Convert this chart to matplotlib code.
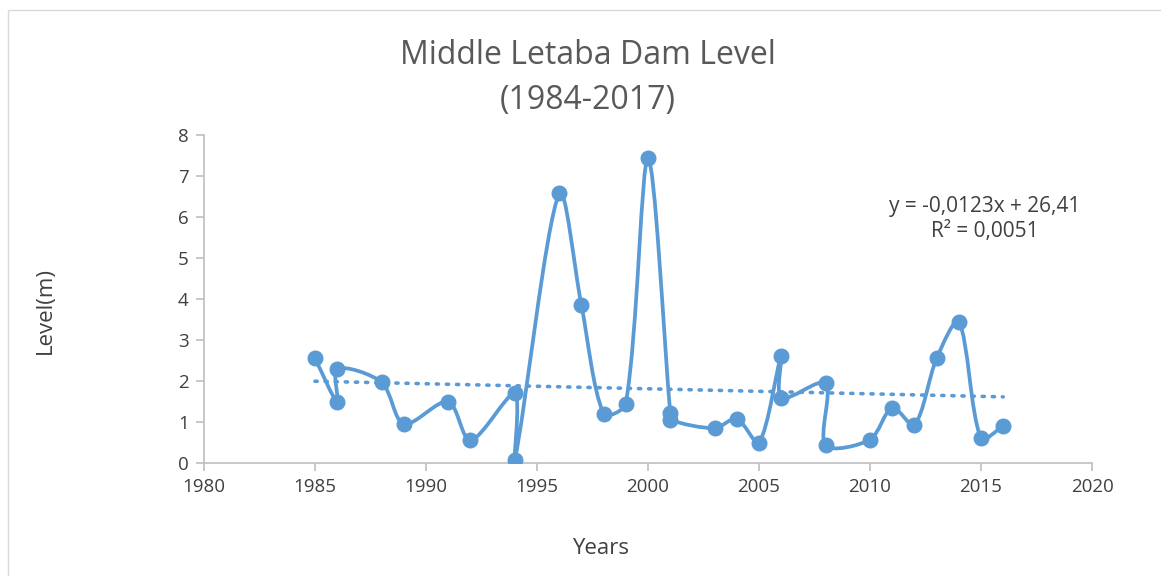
import numpy as np
import matplotlib
matplotlib.use("Agg")
import matplotlib.pyplot as plt
from matplotlib.patches import Rectangle
from matplotlib.path import Path
from matplotlib.patches import PathPatch

years = [1985, 1986, 1986, 1988, 1989, 1991, 1992, 1994, 1994, 1996, 1997, 1998, 1999,
         2000, 2001, 2001, 2003, 2004, 2005, 2006, 2006, 2008, 2008, 2010, 2011, 2012,
         2013, 2014, 2015, 2016]
levels = [2.55, 1.50, 2.30, 1.97, 0.95, 1.50, 0.55, 1.70, 0.08, 6.58, 3.85, 1.20, 1.45,
          7.43, 1.22, 1.05, 0.85, 1.08, 0.50, 2.60, 1.58, 1.95, 0.43, 0.57, 1.35, 0.93,
          2.55, 3.45, 0.60, 0.90]
trend_slope = -0.0123
trend_intercept = 26.41
title = "Middle Letaba Dam Level\n(1984-2017)"
eq_text = "y = -0,0123x + 26,41\nR² = 0,0051"

color = "#5B9BD5"
gray_text = "#595959"
axis_gray = "#BFBFBF"
font = "Open Sans"

fig = plt.figure(figsize=(11.61, 5.76), dpi=100)
fig.patch.set_facecolor("white")
fig.patches.append(Rectangle((8/1161, -0.1), 1.2, 1 - 10/576 + 0.1, transform=fig.transFigure,
                             fill=False, edgecolor="#D9D9D9", linewidth=1.0))

ax = fig.add_axes([204/1161, 1 - 463/576, (1092 - 204)/1161, (463 - 135)/576])
ax.set_xlim(1980, 2020)
ax.set_ylim(0, 8)

# Excel-style smoothed line, computed in display space with segment-length scaled handles
P = ax.transData.transform(np.column_stack([years, levels]).astype(float))
n = len(P)
verts = [P[0]]
codes = [Path.MOVETO]
for i in range(n - 1):
    p0 = P[i - 1] if i > 0 else P[i]
    p1 = P[i]
    p2 = P[i + 1]
    p3 = P[i + 2] if i + 2 < n else P[i + 1]
    d01 = np.hypot(*(p1 - p0)); d12 = np.hypot(*(p2 - p1)); d23 = np.hypot(*(p3 - p2))
    f1 = d12 / (d01 + d12) / 3.0 if (d01 + d12) > 0 else 0
    f2 = d12 / (d12 + d23) / 3.0 if (d12 + d23) > 0 else 0
    c1 = p1 + (p2 - p0) * f1 * 0.9
    c2 = p2 - (p3 - p1) * f2 * 0.9
    verts += [c1, c2, p2]
    codes += [Path.CURVE4] * 3
verts_data = ax.transData.inverted().transform(np.array(verts))
ax.add_patch(PathPatch(Path(verts_data, codes), fill=False, edgecolor=color, linewidth=2.7,
                       capstyle="round", joinstyle="round", zorder=3))
ax.plot(years, levels, linestyle="none", marker="o", markersize=10.5, color=color, zorder=4)

tx = np.array([min(years), max(years)], dtype=float)
ax.plot(tx, trend_slope * tx + trend_intercept, linestyle=(0, (0.6, 2.2)), linewidth=2.6,
        color=color, dash_capstyle="round", zorder=2)

ax.set_xticks(np.arange(1980, 2021, 5))
ax.set_yticks(np.arange(0, 9, 1))
for s in ["top", "right"]:
    ax.spines[s].set_visible(False)
for s in ["left", "bottom"]:
    ax.spines[s].set_color(axis_gray)
    ax.spines[s].set_linewidth(1.2)
ax.tick_params(axis="both", colors=axis_gray, length=6, width=1.2, direction="out",
               labelcolor="#404040", labelsize=13.5, pad=5)
for lab in ax.get_xticklabels() + ax.get_yticklabels():
    lab.set_fontfamily(font)

fig.text(588/1161, 1 - 55/576, "Middle Letaba Dam Level", ha="center", va="center",
         fontsize=23, color=gray_text, family=font)
fig.text(588/1161, 1 - 100/576, "(1984-2017)", ha="center", va="center",
         fontsize=23, color=gray_text, family=font)
fig.text(45/1161, 1 - 310/576, "Level(m)", rotation=90, ha="center", va="center",
         fontsize=16, color="#404040", family=font)
fig.text(601/1161, 1 - 548/576, "Years", ha="center", va="center",
         fontsize=16, color="#404040", family=font)
fig.text(985/1161, 1 - 219/576, eq_text, ha="center", va="center", fontsize=15,
         color="#404040", family=font, linespacing=1.2)

fig.savefig("out.png", dpi=100, facecolor="white")
